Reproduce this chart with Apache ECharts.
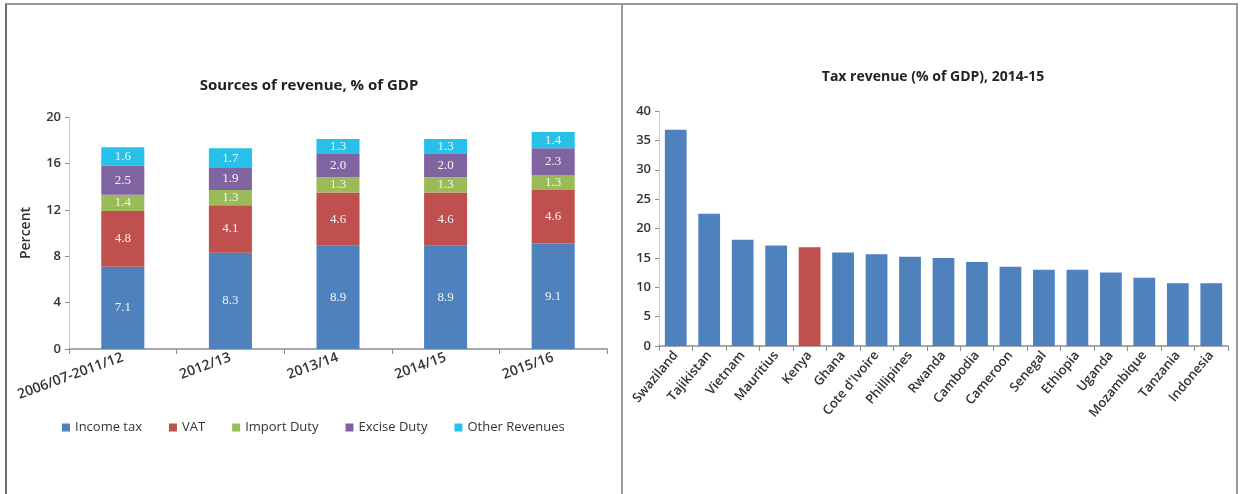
<!DOCTYPE html>
<html>
<head>
<meta charset="utf-8">
<script src="https://cdn.jsdelivr.net/npm/echarts@6/dist/echarts.min.js"></script>
<style>
  html, body { margin: 0; padding: 0; background: #fff; }
  #frame { position: absolute; left: 5px; top: 3px; width: 1233px; height: 491px;
           border-top: 2px solid #9a9a9a; border-left: 2px solid #6e6e6e; border-right: 2px solid #9a9a9a; box-sizing: border-box; }
  #divider { position: absolute; left: 621px; top: 3px; width: 2px; height: 491px; background: #9a9a9a; }
  #chart { position: absolute; left: 0; top: 0; width: 1240px; height: 494px; }
</style>
</head>
<body>
<div id="frame"></div>
<div id="divider"></div>
<div id="chart"></div>
<script>
// Sources of revenue, % of GDP (stacked)
const periods = ['2006/07-2011/12', '2012/13', '2013/14', '2014/15', '2015/16'];
const incomeTax = [7.1, 8.3, 8.9, 8.9, 9.1];
const vat = [4.8, 4.1, 4.6, 4.6, 4.6];
const importDuty = [1.4, 1.3, 1.3, 1.3, 1.3];
const exciseDuty = [2.5, 1.9, 2.0, 2.0, 2.3];
const otherRevenues = [1.6, 1.7, 1.3, 1.3, 1.4];
const percentTicks = [0, 4, 8, 12, 16, 20];

// Tax revenue (% of GDP), 2014-15
const countries = ['Swaziland', 'Tajikistan', 'Vietnam', 'Mauritius', 'Kenya', 'Ghana', "Cote d'Ivoire",
  'Phillipines', 'Rwanda', 'Cambodia', 'Cameroon', 'Senegal', 'Ethiopia', 'Uganda', 'Mozambique', 'Tanzania', 'Indonesia'];
const taxRevenue = [36.8, 22.5, 18.1, 17.1, 16.8, 15.9, 15.6, 15.2, 15.0, 14.3, 13.5, 13.0, 13.0, 12.5, 11.6, 10.7, 10.7];
const taxTicks = [0, 5, 10, 15, 20, 25, 30, 35, 40];
const highlighted = 'Kenya';

const FONT = '"Open Sans", Lato, sans-serif';
const TEXT = '#333333';
const AXIS = '#8c8c8c';
const colors = { income: '#4f81bd', vat: '#c0504d', imp: '#9bbb59', excise: '#8064a2', other: '#27c0e8', highlight: '#c0504d' };

const chart = echarts.init(document.getElementById('chart'), null, { renderer: 'canvas' });

function stackSeries(name, data, color) {
  return {
    name, type: 'bar', stack: 'rev', xAxisIndex: 0, yAxisIndex: 0,
    data, barWidth: '40%',
    itemStyle: { color },
    label: { show: true, position: 'inside', color: '#f4f4f4', fontFamily: '"Liberation Serif", "DejaVu Serif", serif', fontSize: 13,
             formatter: p => p.value.toFixed(1) }
  };
}

const catAxisBase = {
  type: 'category',
  axisLine: { lineStyle: { color: AXIS, width: 1.5 } },
  axisTick: { show: true, length: 5, lineStyle: { color: AXIS } },
  axisLabel: { color: TEXT, fontFamily: FONT, fontSize: 13, fontWeight: 600, interval: 0, margin: 8 }
};
const valAxisBase = {
  type: 'value',
  axisLine: { show: true, lineStyle: { color: '#c8c8c8', width: 1 } },
  axisTick: { show: true, length: 4, lineStyle: { color: AXIS } },
  splitLine: { show: false },
  axisLabel: { color: TEXT, fontFamily: FONT, fontSize: 13, fontWeight: 600, margin: 8 }
};

chart.setOption({
  animation: false,
  title: [
    { text: 'Sources of revenue, % of GDP', left: 304, top: 73, textAlign: 'center',
      textStyle: { fontFamily: FONT, fontSize: 15, fontWeight: 'bold', color: '#222' } },
    { text: 'Tax revenue (% of GDP), 2014-15', left: 928, top: 65, textAlign: 'center',
      textStyle: { fontFamily: FONT, fontSize: 14, fontWeight: 'bold', color: '#222' } }
  ],
  legend: {
    left: 57, top: 416, itemWidth: 8, itemHeight: 8, itemGap: 27, icon: 'rect',
    textStyle: { fontFamily: FONT, fontSize: 13, color: TEXT },
    data: ['Income tax', 'VAT', 'Import Duty', 'Excise Duty', 'Other Revenues']
  },
  grid: [
    { left: 69, top: 117, width: 538, height: 232 },
    { left: 659, top: 111, width: 569, height: 235 }
  ],
  xAxis: [
    Object.assign({}, catAxisBase, { gridIndex: 0, data: periods,
      axisLabel: Object.assign({}, catAxisBase.axisLabel, { rotate: 20, fontSize: 14 }) }),
    Object.assign({}, catAxisBase, { gridIndex: 1, data: countries,
      axisLabel: Object.assign({}, catAxisBase.axisLabel, { rotate: 50, fontSize: 13, margin: 7 }) })
  ],
  yAxis: [
    Object.assign({}, valAxisBase, { gridIndex: 0, min: percentTicks[0], max: percentTicks[percentTicks.length - 1],
      interval: percentTicks[1] - percentTicks[0],
      name: 'Percent', nameLocation: 'middle', nameGap: 36, nameRotate: 90,
      nameTextStyle: { fontFamily: FONT, fontSize: 14, fontWeight: 600, color: TEXT } }),
    Object.assign({}, valAxisBase, { gridIndex: 1, min: taxTicks[0], max: taxTicks[taxTicks.length - 1],
      interval: taxTicks[1] - taxTicks[0] })
  ],
  series: [
    stackSeries('Income tax', incomeTax, colors.income),
    stackSeries('VAT', vat, colors.vat),
    stackSeries('Import Duty', importDuty, colors.imp),
    stackSeries('Excise Duty', exciseDuty, colors.excise),
    stackSeries('Other Revenues', otherRevenues, colors.other),
    {
      name: 'Tax revenue', type: 'bar', xAxisIndex: 1, yAxisIndex: 1, barWidth: '65%',
      data: taxRevenue.map((v, i) => ({
        value: v,
        itemStyle: { color: countries[i] === highlighted ? colors.highlight : colors.income }
      }))
    }
  ]
});
</script>
</body>
</html>
